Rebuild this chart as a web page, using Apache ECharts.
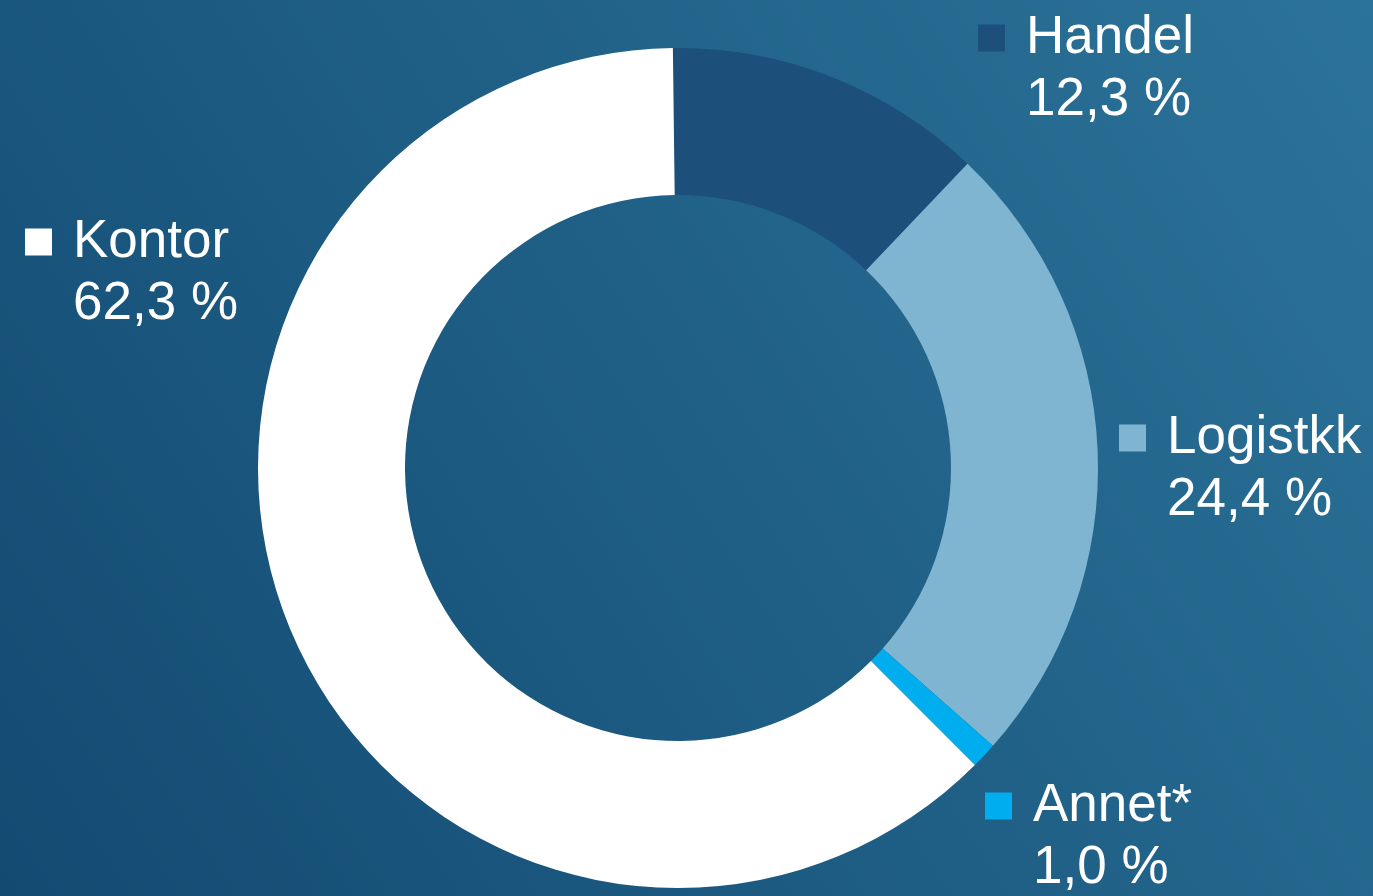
<!DOCTYPE html>
<html>
<head>
<meta charset="utf-8">
<script src="https://cdn.jsdelivr.net/npm/echarts@6/dist/echarts.min.js"></script>
<style>
html,body{margin:0;padding:0;width:1373px;height:896px;overflow:hidden;}
#c{width:1373px;height:896px;}
</style>
</head>
<body>
<div id="c"></div>
<script>
var categories = ['Handel', 'Logistkk', 'Annet*', 'Kontor'];
var shares = [12.3, 24.4, 1.0, 62.3];
var sliceColors = ['#1c4f7a', '#7fb5d0', '#00aeef', '#ffffff'];
// label anchor (left of marker square, top of first text line)
var labelAnchors = [[978, 7], [1119, 407], [985, 775], [25, 211]];

function fmt(v) { return v.toFixed(1).replace('.', ',') + ' %'; }

var LH = 62;
var rich = {
  txt: { fontFamily: 'Liberation Sans, Arial, sans-serif', fontSize: 53, color: '#ffffff', lineHeight: LH },
  gap: { width: 21, height: 27, lineHeight: LH },
  pad: { width: 48, height: 27, lineHeight: LH }
};
sliceColors.forEach(function (c, i) {
  rich['sq' + i] = { width: 27, height: 27, backgroundColor: c, lineHeight: LH };
});

var data = categories.map(function (n, i) {
  return { name: n, value: shares[i], itemStyle: { color: sliceColors[i] } };
});

var chart = echarts.init(document.getElementById('c'));
chart.setOption({
  backgroundColor: {
    type: 'linear', x: 0, y: 1, x2: 1, y2: 0,
    colorStops: [{ offset: 0, color: '#124a72' }, { offset: 1, color: '#2c7399' }]
  },
  animation: false,
  series: [{
    type: 'pie',
    center: [678, 468],
    radius: [273, 420],
    startAngle: 90.7,
    clockwise: true,
    silent: true,
    data: data,
    label: {
      show: true,
      position: 'outside',
      overflow: 'none',
      width: 400,
      formatter: function (p) {
        return '{sq' + p.dataIndex + '|}{gap|}{txt|' + p.name + '}\n{pad|}{txt|' + fmt(p.value) + '}';
      },
      rich: rich
    },
    labelLine: { show: false },
    labelLayout: function (p) {
      var a = labelAnchors[p.dataIndex];
      return { x: a[0], y: a[1], align: 'left', verticalAlign: 'top', hideOverlap: false, moveOverlap: null };
    }
  }]
});
</script>
</body>
</html>
